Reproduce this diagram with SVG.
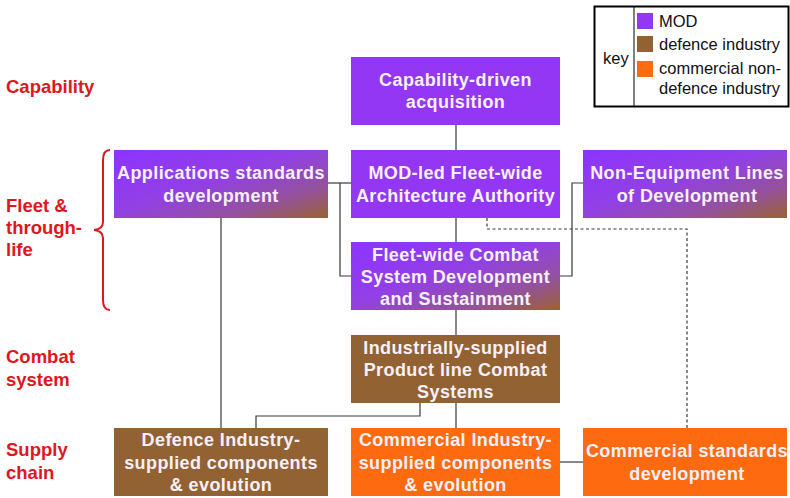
<svg xmlns="http://www.w3.org/2000/svg" width="790" height="498" viewBox="0 0 790 498">
  <style>
    .node-text { font-family: "Liberation Sans", Arial, sans-serif; font-weight: bold; font-size: 18px; letter-spacing: 0.4px; fill: #f6f0fa; text-anchor: middle; }
    .band { font-family: "Liberation Sans", Arial, sans-serif; font-weight: bold; font-size: 18.5px; fill: #e0161c; }
    .key-text { font-family: "Liberation Sans", Arial, sans-serif; font-size: 16.5px; fill: #111; }
    .mod { fill: #9337f5; }
    .def { fill: #936233; }
    .com { fill: #fd6a0f; }
    .mix { fill: url(#modToIndustry); }
    .conn { fill: none; stroke: #3a3a3a; stroke-width: 1.2; }
    .dash { stroke-dasharray: 3 2.5; }
  </style>
  <defs>
    <linearGradient id="modToIndustry" x1="0" y1="0" x2="1" y2="1">
      <stop offset="0" stop-color="#8d33ff"/>
      <stop offset="0.45" stop-color="#9240e6"/>
      <stop offset="0.75" stop-color="#94519f"/>
      <stop offset="1" stop-color="#9a6330"/>
    </linearGradient>
  </defs>
  <rect width="790" height="498" fill="#ffffff"/>

  <!-- key -->
  <g id="key">
    <rect x="594.5" y="6.5" width="194" height="100" fill="#ffffff" stroke="#000" stroke-width="2"/>
    <line x1="634" y1="7" x2="634" y2="106" stroke="#000" stroke-width="1"/>
    <text class="key-text" x="603" y="64">key</text>
    <rect class="mod" x="637" y="13" width="16" height="16"/>
    <rect class="def" x="637" y="36" width="16" height="16"/>
    <rect class="com" x="637" y="61" width="16" height="16"/>
    <text class="key-text" x="659" y="27">MOD</text>
    <text class="key-text" x="659" y="50">defence industry</text>
    <text class="key-text" x="659" y="74">commercial non-</text>
    <text class="key-text" x="659" y="94">defence industry</text>
  </g>

  <!-- band labels -->
  <g id="bands">
    <text class="band" x="6" y="93">Capability</text>
    <text class="band" x="6" y="212">Fleet &amp;</text>
    <text class="band" x="6" y="234">through-</text>
    <text class="band" x="6" y="256">life</text>
    <path d="M110,150 Q103,150 103,160 L103,222 Q103,229 94,230 Q103,231 103,238 L103,300 Q103,310 110,310" fill="none" stroke="#e0161c" stroke-width="2"/>
    <text class="band" x="6" y="363">Combat</text>
    <text class="band" x="6" y="386">system</text>
    <text class="band" x="6" y="456">Supply</text>
    <text class="band" x="6" y="479">chain</text>
  </g>

  <!-- connectors -->
  <g id="connectors">
    <line class="conn" x1="456" y1="125" x2="456" y2="150"/>
    <line class="conn" x1="456" y1="218" x2="456" y2="242"/>
    <line class="conn" x1="456" y1="310" x2="456" y2="335"/>
    <line class="conn" x1="456" y1="403" x2="456" y2="428"/>
    <line class="conn" x1="328" y1="183" x2="351" y2="183"/>
    <polyline class="conn" points="340,183 340,276 351,276"/>
    <polyline class="conn" points="583,183 572,183 572,276 560,276"/>
    <line class="conn" x1="221" y1="218" x2="221" y2="428"/>
    <polyline class="conn" points="420,403 420,416 256,416 256,428"/>
    <line class="conn" x1="560" y1="462" x2="583" y2="462"/>
    <polyline class="conn dash" points="487,218 487,229 687,229 687,428"/>
  </g>

  <!-- nodes -->
  <g id="capability-driven-acquisition">
    <rect class="mod" x="351" y="57" width="209" height="68"/>
    <text class="node-text" x="455.5" y="86">Capability-driven</text>
    <text class="node-text" x="455.5" y="108">acquisition</text>
  </g>
  <g id="applications-standards">
    <rect class="mix" x="114" y="150" width="214" height="68"/>
    <text class="node-text" x="221" y="179">Applications standards</text>
    <text class="node-text" x="221" y="202">development</text>
  </g>
  <g id="architecture-authority">
    <rect class="mod" x="351" y="150" width="209" height="68"/>
    <text class="node-text" x="455.5" y="179">MOD-led Fleet-wide</text>
    <text class="node-text" x="455.5" y="202">Architecture Authority</text>
  </g>
  <g id="non-equipment-lines">
    <rect class="mix" x="583" y="150" width="204" height="68"/>
    <text class="node-text" x="687" y="179">Non-Equipment Lines</text>
    <text class="node-text" x="687" y="202">of Development</text>
  </g>
  <g id="combat-system-development">
    <rect class="mix" x="351" y="242" width="209" height="68"/>
    <text class="node-text" x="455.5" y="261">Fleet-wide Combat</text>
    <text class="node-text" x="455.5" y="283">System Development</text>
    <text class="node-text" x="455.5" y="305">and Sustainment</text>
  </g>
  <g id="product-line-combat-systems">
    <rect class="def" x="351" y="335" width="209" height="68"/>
    <text class="node-text" x="455.5" y="354">Industrially-supplied</text>
    <text class="node-text" x="455.5" y="376">Product line Combat</text>
    <text class="node-text" x="455.5" y="398">Systems</text>
  </g>
  <g id="defence-industry-components">
    <rect class="def" x="114" y="428" width="214" height="68"/>
    <text class="node-text" x="221" y="446">Defence Industry-</text>
    <text class="node-text" x="221" y="469">supplied components</text>
    <text class="node-text" x="221" y="491">&amp; evolution</text>
  </g>
  <g id="commercial-industry-components">
    <rect class="com" x="351" y="428" width="209" height="68"/>
    <text class="node-text" x="455.5" y="446">Commercial Industry-</text>
    <text class="node-text" x="455.5" y="469">supplied components</text>
    <text class="node-text" x="455.5" y="491">&amp; evolution</text>
  </g>
  <g id="commercial-standards">
    <rect class="com" x="583" y="428" width="204" height="68"/>
    <text class="node-text" x="687" y="457">Commercial standards</text>
    <text class="node-text" x="687" y="480">development</text>
  </g>
</svg>
